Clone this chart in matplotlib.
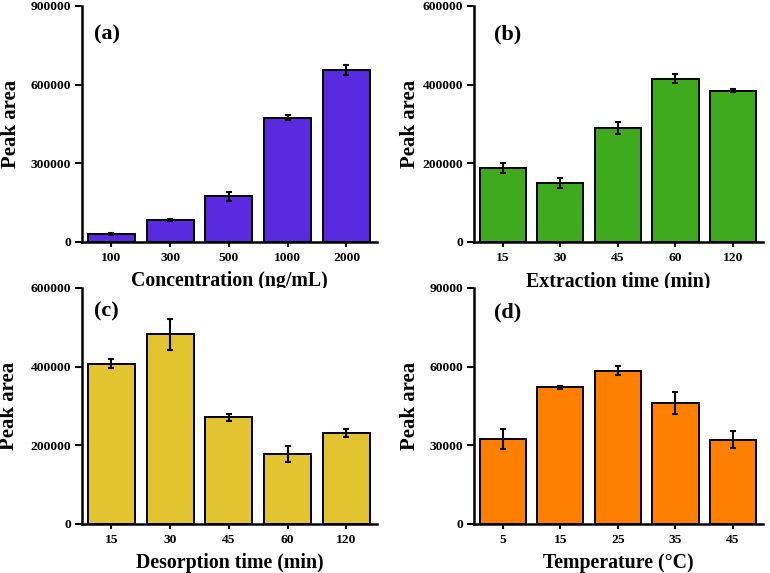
import matplotlib
matplotlib.use("Agg")
import matplotlib.pyplot as plt
import numpy as np

plt.rcParams['font.family'] = ['Liberation Serif', 'DejaVu Serif']
plt.rcParams['font.weight'] = 'bold'

# Data
conc_labels = ["100", "300", "500", "1000", "2000"]
conc_vals = [30000, 84000, 174000, 474000, 655000]
conc_err = [5000, 4500, 18000, 9500, 19000]

ext_labels = ["15", "30", "45", "60", "120"]
ext_vals = [188000, 151000, 290000, 415000, 385000]
ext_err = [12000, 12700, 14400, 11000, 4200]

des_labels = ["15", "30", "45", "60", "120"]
des_vals = [408000, 482000, 271000, 178000, 232000]
des_err = [11000, 39000, 8500, 20000, 9700]

temp_labels = ["5", "15", "25", "35", "45"]
temp_vals = [32300, 52200, 58500, 46100, 32100]
temp_err = [3800, 600, 1600, 4300, 3300]

panels = [
    dict(labels=conc_labels, vals=conc_vals, err=conc_err, color="#5A2AE0",
         xlabel="Concentration (ng/mL)", ymax=900000, yticks=[0, 300000, 600000, 900000],
         tag="(a)", rect=[82/770, 1-242/573, 295/770, 236/573], ylc=-0.207, tagpos=(0.04, 0.88)),
    dict(labels=ext_labels, vals=ext_vals, err=ext_err, color="#40AA1E",
         xlabel="Extraction time (min)", ymax=600000, yticks=[0, 200000, 400000, 600000],
         tag="(b)", rect=[474/770, 1-242/573, 289/770, 236/573], ylc=-0.188, tagpos=(0.07, 0.88)),
    dict(labels=des_labels, vals=des_vals, err=des_err, color="#E2C430",
         xlabel="Desorption time (min)", ymax=600000, yticks=[0, 200000, 400000, 600000],
         tag="(c)", rect=[82/770, 1-524/573, 295/770, 236/573], ylc=-0.213, tagpos=(0.04, 0.9)),
    dict(labels=temp_labels, vals=temp_vals, err=temp_err, color="#FF8000",
         xlabel="Temperature (°C)", ymax=90000, yticks=[0, 30000, 60000, 90000],
         tag="(d)", rect=[474/770, 1-524/573, 289/770, 236/573], ylc=-0.187, tagpos=(0.07, 0.895)),
]

fig = plt.figure(figsize=(7.7, 5.73), dpi=100)

for p in panels:
    ax = fig.add_axes(p["rect"])
    x = np.arange(len(p["labels"]))
    ax.bar(x, p["vals"], width=0.8, color=p["color"], edgecolor="black", linewidth=1.4,
           yerr=p["err"], capsize=2.5,
           error_kw=dict(ecolor="black", elinewidth=1.5, capthick=1.5))
    ax.set_xlim(-0.5, 4.52)
    ax.set_ylim(0, p["ymax"])
    ax.set_yticks(p["yticks"])
    ax.set_yticklabels([str(t) for t in p["yticks"]])
    ax.set_xticks(x)
    ax.set_xticklabels(p["labels"])
    for s in ["top", "right"]:
        ax.spines[s].set_visible(False)
    for s in ["left", "bottom"]:
        ax.spines[s].set_linewidth(1.8)
    ax.tick_params(axis="y", direction="out", length=5, width=1.5, labelsize=9.7, pad=3)
    ax.tick_params(axis="x", direction="out", length=3.5, width=1.5, labelsize=9.7, pad=4)
    for lab in ax.get_xticklabels() + ax.get_yticklabels():
        lab.set_fontweight("bold")
    ax.set_xlabel(p["xlabel"], fontsize=14.3, fontweight="bold", labelpad=5)
    ax.set_ylabel("Peak area", fontsize=15, fontweight="bold")
    ax.yaxis.set_label_coords(p["ylc"], 0.5)
    ax.text(p["tagpos"][0], p["tagpos"][1], p["tag"], transform=ax.transAxes,
            fontsize=16, fontweight="bold", va="center", ha="left")

fig.savefig("out.png", dpi=100)
